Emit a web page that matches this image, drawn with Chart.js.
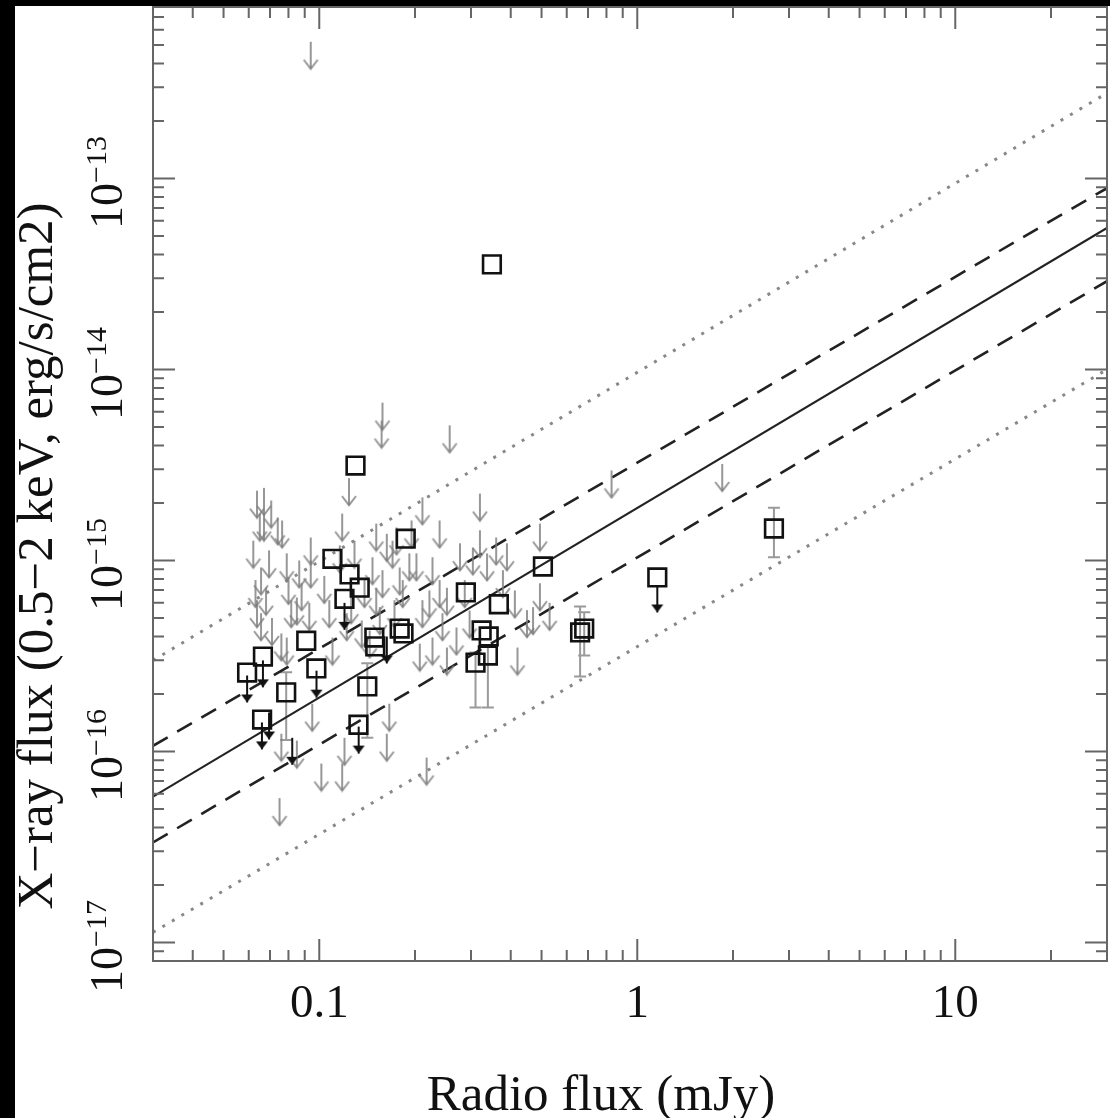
<!DOCTYPE html>
<html>
<head>
<meta charset="utf-8">
<script src="https://cdn.jsdelivr.net/npm/chart.js@4.4.1/dist/chart.umd.min.js"></script>
<style>
html, body { margin: 0; padding: 0; background: #000; }
#wrap { position: absolute; left: 15px; top: 6px; }
canvas { display: block; }
</style>
</head>
<body>
<div id="wrap"><canvas id="fluxPlot" width="1095" height="1112"></canvas></div>
<script>
// Fuentes detectadas (flujo radio mJy, flujo X erg/s/cm2)
var detX = [0.349, 0.130, 0.187, 0.110, 0.1245, 0.134, 0.120, 0.505, 0.289, 0.367,
            0.091, 0.179, 0.184, 0.324, 0.341, 0.339, 0.310, 0.661, 0.681, 1.156,
            2.69, 0.0593, 0.0665, 0.0979, 0.0787, 0.0661, 0.1416, 0.1328, 0.149, 0.150];
var detY = [3.55e-14, 3.14e-15, 1.30e-15, 1.02e-15, 8.45e-16, 7.2e-16, 6.3e-16, 9.3e-16, 6.8e-16, 5.9e-16,
            3.8e-16, 4.4e-16, 4.15e-16, 4.3e-16, 4.0e-16, 3.18e-16, 2.92e-16, 4.2e-16, 4.4e-16, 8.15e-16,
            1.47e-15, 2.59e-16, 3.14e-16, 2.72e-16, 2.04e-16, 1.47e-16, 2.19e-16, 1.38e-16, 3.95e-16, 3.55e-16];

// Barras de error de algunas detecciones
var errX    = [0.339, 0.310, 0.661, 0.681, 2.69, 0.1416, 0.0787];
var errLow  = [1.70e-16, 1.70e-16, 2.47e-16, 3.18e-16, 1.04e-15, 1.18e-16, 1.15e-16];
var errHigh = [3.6e-16, 3.3e-16, 5.74e-16, 5.35e-16, 1.89e-15, 2.9e-16, 2.6e-16];

// Limites superiores (flechas negras)
var blackX = [1.156, 0.0593, 0.0665, 0.098, 0.066, 0.133, 0.0822, 0.0695, 0.163, 0.120];
var blackY = [7.4e-16, 2.5e-16, 3.0e-16, 2.65e-16, 1.42e-16, 1.35e-16, 1.18e-16, 1.6e-16, 4.0e-16, 6.0e-16];

// Limites superiores (flechas grises)
var ulX = [0.094, 0.158, 0.157, 0.257, 0.124, 0.067, 0.067, 0.074, 0.0695, 0.0656,
           0.068, 0.079, 0.080, 0.0656, 0.071, 0.076, 0.094, 0.094, 0.088, 0.093,
           0.085, 0.118, 0.151, 0.163, 0.170, 0.147, 0.158, 0.151, 0.155, 0.122,
           0.110, 0.136, 0.144, 0.079, 0.211, 0.320, 0.83, 1.85, 0.494, 0.32,
           0.277, 0.389, 0.494, 0.53, 0.47, 0.42, 0.227, 0.252, 0.202, 0.179,
           0.227, 0.207, 0.252, 0.27, 0.175, 0.192, 0.239, 0.337, 0.36, 0.378,
           0.45, 0.244, 0.183, 0.095, 0.12, 0.1015, 0.118, 0.075, 0.163, 0.166,
           0.2175, 0.076, 0.085, 0.065, 0.063, 0.062, 0.304, 0.116, 0.126, 0.211,
           0.0637, 0.0706, 0.0764, 0.0637, 0.0816, 0.0865, 0.1037, 0.1075, 0.129, 0.1387,
           0.1724, 0.195, 0.239, 0.2866, 0.297, 0.412, 0.222];
var ulY = [5.2e-13, 6.7e-15, 5.4e-15, 5.1e-15, 2.7e-15, 2.4e-15, 1.76e-15, 1.68e-15, 1.13e-15, 9.2e-16,
           7.2e-16, 1.09e-15, 8.2e-16, 5.3e-16, 5.0e-16, 4.15e-16, 1.32e-15, 1.0e-15, 7.6e-16, 6.0e-16,
           6.4e-16, 1.76e-15, 1.56e-15, 1.38e-15, 1.27e-15, 1.04e-15, 8.9e-16, 7.2e-16, 5.7e-16, 5.3e-16,
           3.95e-16, 4.85e-16, 4.3e-16, 3.95e-16, 2.14e-15, 2.24e-15, 2.96e-15, 3.2e-15, 1.56e-15, 1.44e-15,
           1.23e-15, 1.23e-15, 7.6e-16, 6.0e-16, 5.7e-16, 3.5e-16, 1.04e-15, 7.2e-16, 1.09e-15, 9.2e-16,
           3.95e-16, 3.67e-16, 3.5e-16, 4.46e-16, 1.49e-15, 1.09e-15, 7.9e-16, 1.09e-15, 1.32e-15, 8.9e-16,
           5.5e-16, 5.3e-16, 7.9e-16, 1.78e-16, 1.18e-16, 8.65e-17, 8.65e-17, 5.7e-17, 1.24e-16, 1.78e-16,
           9.3e-17, 1.24e-16, 1.14e-16, 1.76e-15, 7.9e-16, 1.27e-15, 1.17e-15, 1.2e-15, 6.5e-16, 6.2e-16,
           2.32e-15, 2.06e-15, 1.62e-15, 6.2e-16, 6.2e-16, 1.0e-15, 8.3e-16, 6.2e-16, 1.27e-15, 7.9e-16,
           6.2e-16, 1.62e-15, 1.62e-15, 7.9e-16, 5.47e-16, 6.97e-16, 6.97e-16];

// Rectas de la relacion (extremos del eje x)
var lineX = [0.03, 30];
var solidY = [5.8e-17, 5.5e-14];
var dashUpY = [1.07e-16, 8.9e-14];
var dashLowY = [3.34e-17, 2.9e-14];
var dotUpY = [3.0e-16, 2.8e-13];
var dotLowY = [1.13e-17, 1.0e-14];

// Ejes
var xTickValues = [0.1, 1, 10];
var xTickLabels = ['0.1', '1', '10'];
var yTickValues = [1e-13, 1e-14, 1e-15, 1e-16, 1e-17];
var yTickExps = ['\u221213', '\u221214', '\u221215', '\u221216', '\u221217'];
var xTitle = 'Radio flux (mJy)';
var yTitle = 'X\u2212ray flux (0.5\u22122 keV, erg/s/cm2)';

var serif = '"Liberation Serif", "DejaVu Serif", serif';

function pts(xs, ys) {
    return xs.map(function (x, i) { return { x: x, y: ys[i] }; });
}

// Dibujo de flecha hacia abajo; el centro del canvas es la punta superior
function makeArrow(color, filled) {
    var c = document.createElement('canvas');
    c.width = 18; c.height = 58;
    var g = c.getContext('2d');
    g.strokeStyle = color; g.fillStyle = color; g.lineWidth = 2;
    var cx = 9, top = 29, tip = 56;
    g.beginPath(); g.moveTo(cx, top); g.lineTo(cx, tip); g.stroke();
    g.beginPath();
    if (filled) {
        g.moveTo(cx - 6, tip - 8); g.lineTo(cx + 6, tip - 8); g.lineTo(cx, tip); g.closePath(); g.fill();
    } else {
        g.moveTo(cx - 7, tip - 9); g.lineTo(cx, tip); g.lineTo(cx + 7, tip - 9); g.stroke();
    }
    return c;
}

function lineSet(ys, dash, color, width) {
    return {
        data: pts(lineX, ys), showLine: true, pointRadius: 0, borderColor: color,
        borderWidth: width, borderDash: dash, fill: false, order: 4
    };
}

var framePlugin = {
    id: 'framePlugin',
    beforeDraw: function (chart) {
        var ctx = chart.ctx;
        ctx.save();
        ctx.fillStyle = '#fff';
        ctx.fillRect(0, 0, chart.width, chart.height);
        ctx.restore();
    },
    beforeDatasetsDraw: function (chart) {
        var ctx = chart.ctx, xs = chart.scales.x, ys = chart.scales.y;
        ctx.save();
        ctx.strokeStyle = '#9a9a9a'; ctx.lineWidth = 2;
        errX.forEach(function (x, i) {
            var px = xs.getPixelForValue(x);
            var lo = ys.getPixelForValue(errLow[i]), hi = ys.getPixelForValue(errHigh[i]);
            ctx.beginPath();
            ctx.moveTo(px, hi); ctx.lineTo(px, lo);
            ctx.moveTo(px - 6, hi); ctx.lineTo(px + 6, hi);
            ctx.moveTo(px - 6, lo); ctx.lineTo(px + 6, lo);
            ctx.stroke();
        });
        ctx.restore();
    },
    afterDraw: function (chart) {
        var ctx = chart.ctx, a = chart.chartArea, xs = chart.scales.x, ys = chart.scales.y;
        ctx.save();
        ctx.strokeStyle = '#666'; ctx.lineWidth = 2;
        ctx.strokeRect(a.left, a.top, a.right - a.left, a.bottom - a.top);
        // marcas hacia dentro en los cuatro lados
        ctx.beginPath();
        for (var e = -2; e <= 1; e++) {
            for (var m = 1; m <= 9; m++) {
                var v = m * Math.pow(10, e);
                if (v <= xs.min || v >= xs.max) continue;
                var px = xs.getPixelForValue(v), len = m === 1 ? 22 : 11;
                ctx.moveTo(px, a.bottom); ctx.lineTo(px, a.bottom - len);
                ctx.moveTo(px, a.top); ctx.lineTo(px, a.top + len);
            }
        }
        for (e = -18; e <= -13; e++) {
            for (m = 1; m <= 9; m++) {
                v = m * Math.pow(10, e);
                if (v <= ys.min || v >= ys.max) continue;
                var py = ys.getPixelForValue(v);
                len = m === 1 ? 22 : 11;
                ctx.moveTo(a.left, py); ctx.lineTo(a.left + len, py);
                ctx.moveTo(a.right, py); ctx.lineTo(a.right - len, py);
            }
        }
        ctx.stroke();

        // etiquetas
        ctx.fillStyle = '#111';
        ctx.textBaseline = 'alphabetic';
        ctx.textAlign = 'center';
        ctx.font = '47px ' + serif;
        xTickValues.forEach(function (v, i) {
            ctx.fillText(xTickLabels[i], xs.getPixelForValue(v), 1011);
        });
        ctx.textAlign = 'left';
        yTickValues.forEach(function (v, i) {
            var py = ys.getPixelForValue(v);
            ctx.save();
            ctx.translate(107, py + 4);
            ctx.rotate(-Math.PI / 2);
            ctx.font = '46px ' + serif;
            var wb = ctx.measureText('10').width;
            ctx.font = '30px ' + serif;
            var we = ctx.measureText(yTickExps[i]).width;
            var x0 = -(wb + we) / 2;
            ctx.font = '46px ' + serif;
            ctx.fillText('10', x0, 0);
            ctx.font = '30px ' + serif;
            ctx.fillText(yTickExps[i], x0 + wb, -16);
            ctx.restore();
        });
        ctx.font = '51px ' + serif;
        ctx.textAlign = 'center';
        ctx.fillText(xTitle, 586, 1104);
        ctx.save();
        ctx.translate(37, 550);
        ctx.rotate(-Math.PI / 2);
        ctx.fillText(yTitle, 0, 0);
        ctx.restore();
        ctx.restore();
    }
};

var ctx = document.getElementById('fluxPlot').getContext('2d');
var chart = new Chart(ctx, {
    type: 'scatter',
    data: {
        datasets: [
            {
                data: pts(detX, detY), pointStyle: 'rect', pointRadius: 12.5,
                borderColor: '#111', borderWidth: 2.6, backgroundColor: 'rgba(0,0,0,0)', order: 0
            },
            { data: pts(blackX, blackY), pointStyle: makeArrow('#111', true), order: 1 },
            { data: pts(ulX, ulY), pointStyle: makeArrow('rgba(125,125,125,0.8)', false), order: 2 },
            lineSet(solidY, [], '#222', 2.2),
            lineSet(dashUpY, [17, 11], '#222', 2.6),
            lineSet(dashLowY, [17, 11], '#222', 2.6),
            lineSet(dotUpY, [3, 8], '#888', 3),
            lineSet(dotLowY, [3, 8], '#888', 3)
        ]
    },
    options: {
        responsive: false,
        animation: false,
        layout: { autoPadding: false, padding: { top: 1, right: 3, left: 0, bottom: 0 } },
        plugins: { legend: { display: false }, tooltip: { enabled: false } },
        scales: {
            x: {
                type: 'logarithmic', min: 0.03, max: 30,
                grid: { display: false, drawTicks: false }, border: { display: false },
                ticks: { display: false },
                afterFit: function (s) { s.height = 157; }
            },
            y: {
                type: 'logarithmic', min: 8e-18, max: 7.9e-13,
                grid: { display: false, drawTicks: false }, border: { display: false },
                ticks: { display: false },
                afterFit: function (s) { s.width = 138; }
            }
        }
    },
    plugins: [framePlugin]
});
</script>
</body>
</html>
